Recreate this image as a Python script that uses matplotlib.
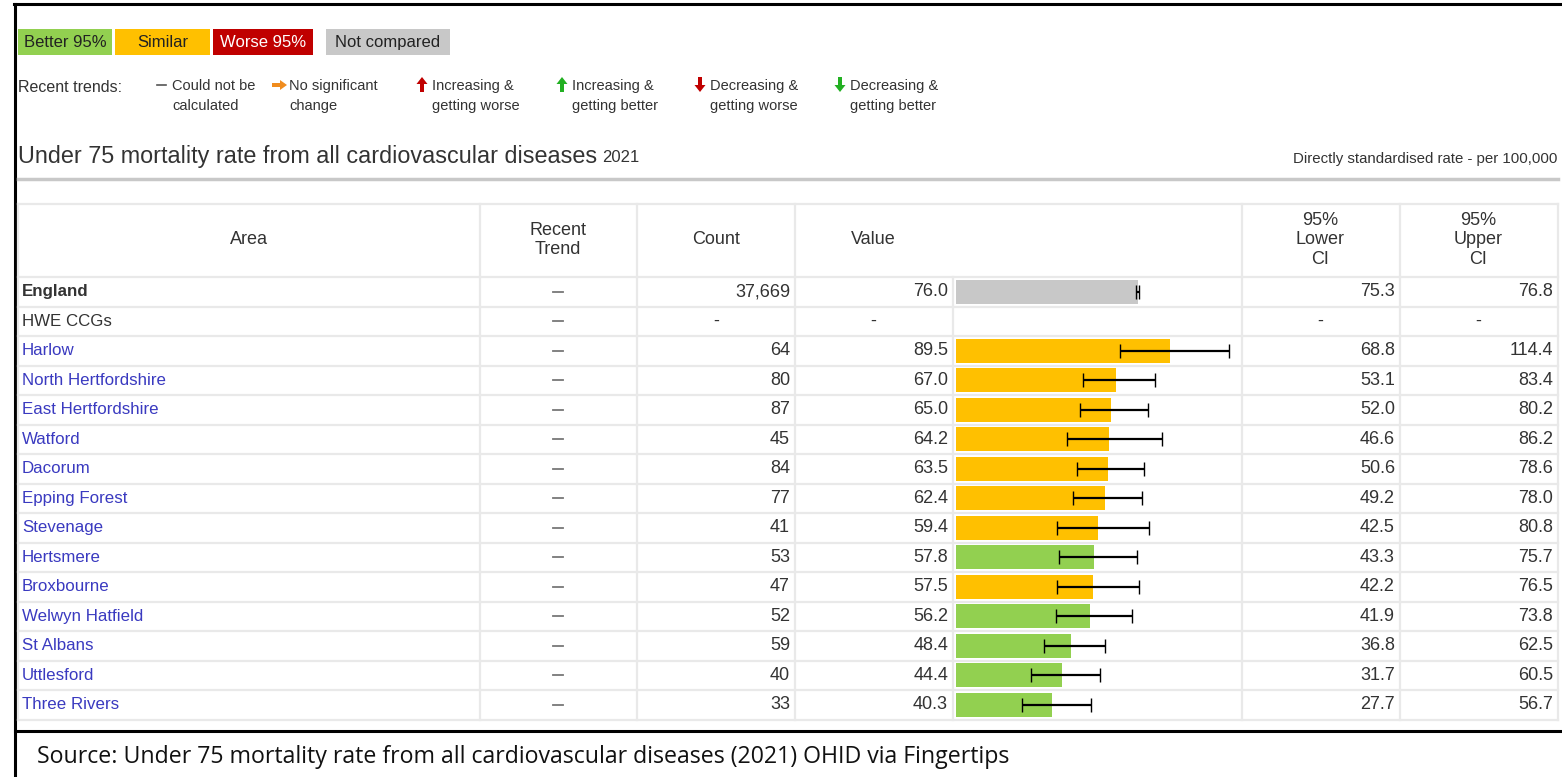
import numpy as np
import matplotlib.pyplot as plt

areas = ['England', 'HWE CCGs', 'Harlow', 'North Hertfordshire', 'East Hertfordshire',
         'Watford', 'Dacorum', 'Epping Forest', 'Stevenage', 'Hertsmere', 'Broxbourne',
         'Welwyn Hatfield', 'St Albans', 'Uttlesford', 'Three Rivers']
counts = ['37,669', '-', '64', '80', '87', '45', '84', '77', '41', '53', '47', '52', '59', '40', '33']
values = [76.0, np.nan, 89.5, 67.0, 65.0, 64.2, 63.5, 62.4, 59.4, 57.8, 57.5, 56.2, 48.4, 44.4, 40.3]
lower_ci = [75.3, np.nan, 68.8, 53.1, 52.0, 46.6, 50.6, 49.2, 42.5, 43.3, 42.2, 41.9, 36.8, 31.7, 27.7]
upper_ci = [76.8, np.nan, 114.4, 83.4, 80.2, 86.2, 78.6, 78.0, 80.8, 75.7, 76.5, 73.8, 62.5, 60.5, 56.7]
status = ['none', 'none', 'similar', 'similar', 'similar', 'similar', 'similar', 'similar',
          'similar', 'better', 'similar', 'better', 'better', 'better', 'better']

colours = {'better': '#92d050', 'similar': '#ffc000', 'worse': '#c00000', 'none': '#c8c8c8'}
txt = '#333333'
link = '#3a3ac0'
grid = '#e9e9e9'
font = 'Liberation Sans'
fs_name = 12.2
fs_num = 13

W, H = 1562, 777
fig = plt.figure(figsize=(W / 100, H / 100), dpi=100)
ax = fig.add_axes([0, 0, 1, 1])
ax.set_xlim(0, W)
ax.set_ylim(H, 0)
ax.axis('off')

# outer frame
ax.plot([14, W], [4, 4], color='black', lw=2.2)
ax.plot([15, 15], [4, H], color='black', lw=2.2)
ax.plot([15, W], [731, 731], color='black', lw=2.2)

# colour key
key = [('Better 95%', 18, 112, colours['better'], '#222222'),
       ('Similar', 115, 210, colours['similar'], '#222222'),
       ('Worse 95%', 213, 313, colours['worse'], 'white'),
       ('Not compared', 326, 450, colours['none'], '#222222')]
for label, x0, x1, c, tc in key:
    ax.add_patch(plt.Rectangle((x0, 29), x1 - x0, 26, color=c, lw=0))
    ax.text((x0 + x1) / 2, 42.5, label, ha='center', va='center', fontsize=12,
            color=tc, family=font)

# trend key
ax.text(18, 88, 'Recent trends:', ha='left', va='center', fontsize=11.5, color=txt, family=font)
trend_items = [(155, 'Could not be\ncalculated', None),
               (272, 'No significant\nchange', ('right', '#f08c1e')),
               (415, 'Increasing &\ngetting worse', ('up', '#c00000')),
               (555, 'Increasing &\ngetting better', ('up', '#22b022')),
               (693, 'Decreasing &\ngetting worse', ('down', '#c00000')),
               (833, 'Decreasing &\ngetting better', ('down', '#22b022'))]
for x, label, arrow in trend_items:
    if arrow is None:
        ax.plot([x + 2, x + 11], [85, 85], color='#555555', lw=1.2)
    else:
        d, c = arrow
        if d == 'right':
            ax.arrow(x, 85, 8, 0, width=4, head_width=10, head_length=7, color=c, lw=0)
        elif d == 'up':
            ax.arrow(x + 7, 92, 0, -8, width=4, head_width=11, head_length=7, color=c, lw=0)
        else:
            ax.arrow(x + 7, 77, 0, 8, width=4, head_width=11, head_length=7, color=c, lw=0)
    ax.text(x + 17, 96, label, ha='left', va='center', fontsize=10.5, color=txt,
            family=font, linespacing=1.6)

# title
title = ax.text(18, 156, 'Under 75 mortality rate from all cardiovascular diseases', ha='left',
                va='center', fontsize=16.8, color=txt, family=font)
fig.canvas.draw()
bb = title.get_window_extent()
ax.text(bb.x1 + 5, 157, '2021', ha='left', va='center', fontsize=12, color=txt, family=font)
ax.text(1557, 159, 'Directly standardised rate - per 100,000', ha='right', va='center',
        fontsize=10.8, color=txt, family=font)
ax.plot([18, 1558], [179, 179], color='#c8c8c8', lw=2.5)

# table grid
row0, rh = 277, 29.5
nrows = len(areas)
bottom = row0 + nrows * rh
for k in range(nrows + 1):
    ax.plot([18, 1558], [row0 + k * rh] * 2, color=grid, lw=1.6)
ax.plot([18, 1558], [204, 204], color=grid, lw=1.6)
for x in [18, 480, 637, 795, 1242, 1400, 1558]:
    ax.plot([x, x], [204, bottom], color=grid, lw=1.6)
ax.plot([953, 953], [row0, bottom], color=grid, lw=1.6)

# header
hy = 240
hdr = dict(ha='center', va='center', fontsize=13, color=txt, family=font, linespacing=1.2)
ax.text(249, hy, 'Area', **hdr)
ax.text(558, hy, 'Recent\nTrend', **hdr)
ax.text(716, hy, 'Count', **hdr)
ax.text(873, hy, 'Value', **hdr)
ax.text(1320, hy, '95%\nLower\nCI', **hdr)
ax.text(1478, hy, '95%\nUpper\nCI', **hdr)

# rows
num = dict(va='center', fontsize=fs_num, color=txt, family=font)
for i, name in enumerate(areas):
    y = row0 + rh / 2 + i * rh
    c = txt if i < 2 else link
    ax.text(22, y, name, ha='left', va='center', fontsize=fs_name, color=c, family=font,
            fontweight='bold' if i == 0 else 'normal')
    ax.plot([553, 563], [y, y], color='#777777', lw=1.3)
    if np.isnan(values[i]):
        for xc in [716, 873, 1320, 1478]:
            ax.text(xc, y, '-', ha='center', **num)
        continue
    ax.text(790, y, counts[i], ha='right', **num)
    ax.text(948, y, f'{values[i]:.1f}', ha='right', **num)
    ax.text(1395, y, f'{lower_ci[i]:.1f}', ha='right', **num)
    ax.text(1553, y, f'{upper_ci[i]:.1f}', ha='right', **num)

# bars with confidence intervals
scale = 2.395  # px per unit
xmax = 120
bx = fig.add_axes([955.5 / W, 1 - bottom / H, xmax * scale / W, nrows * rh / H])
bx.set_xlim(0, xmax)
bx.set_ylim(nrows - 0.5, -0.5)
bx.axis('off')
idx = np.arange(nrows)
vals = np.array(values)
lo = np.array(lower_ci)
hi = np.array(upper_ci)
ok = ~np.isnan(vals)
bx.barh(idx[ok], vals[ok], height=0.8, color=[colours[s] for s, k in zip(status, ok) if k])
bx.errorbar(vals[ok], idx[ok], xerr=[vals[ok] - lo[ok], hi[ok] - vals[ok]], fmt='none',
            ecolor='black', elinewidth=1.6, capsize=5, capthick=1)

# source box
ax.text(37, 757, 'Source: Under 75 mortality rate from all cardiovascular diseases (2021) OHID via Fingertips',
        ha='left', va='center', fontsize=16.7, color='#111111', family='Open Sans')

fig.savefig('out.png', dpi=100)
